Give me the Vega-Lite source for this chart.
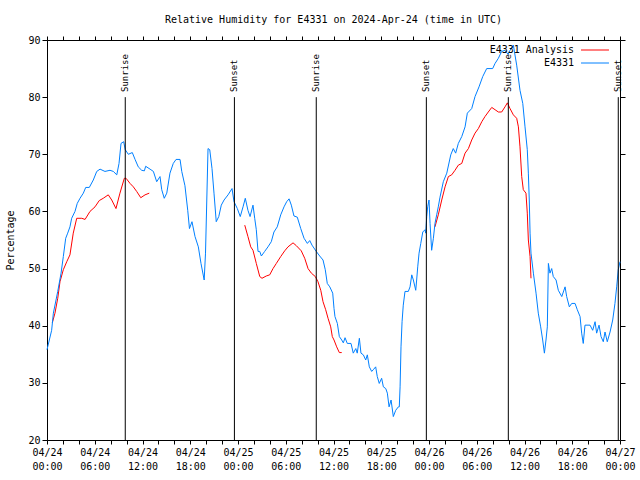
{
  "$schema": "https://vega.github.io/schema/vega-lite/v6.json",
  "width": 573,
  "height": 400,
  "autosize": {"type": "none"},
  "padding": {"left": 47, "top": 40, "right": 20, "bottom": 40},
  "title": {"text": "Relative Humidity for E4331 on 2024-Apr-24 (time in UTC)", "font": "DejaVu Sans Mono", "fontSize": 10, "fontWeight": "normal", "color": "black", "anchor": "middle", "offset": 10},
  "config": {
    "font": "DejaVu Sans Mono",
    "view": {"stroke": "black", "strokeWidth": 1},
    "axis": {"labelFont": "DejaVu Sans Mono", "labelFontSize": 10, "labelColor": "black", "titleFont": "DejaVu Sans Mono", "titleFontSize": 10, "titleFontWeight": "normal", "titleColor": "black", "domain": false, "tickColor": "black", "grid": false}
  },
  "datasets": {
    "sun": [
      {"time": "2024-04-24T09:50Z", "event": "Sunrise"},
      {"time": "2024-04-24T23:33Z", "event": "Sunset"},
      {"time": "2024-04-25T09:50Z", "event": "Sunrise"},
      {"time": "2024-04-25T23:40Z", "event": "Sunset"},
      {"time": "2024-04-26T09:58Z", "event": "Sunrise"},
      {"time": "2024-04-26T23:47Z", "event": "Sunset"}
    ],
    "rh": [
      {"time": "2024-04-24T00:40Z", "series": "E4331 Analysis", "rh": 40.5},
      {"time": "2024-04-24T01:00Z", "series": "E4331 Analysis", "rh": 42.2},
      {"time": "2024-04-24T01:21Z", "series": "E4331 Analysis", "rh": 44.8},
      {"time": "2024-04-24T01:38Z", "series": "E4331 Analysis", "rh": 47.7},
      {"time": "2024-04-24T02:03Z", "series": "E4331 Analysis", "rh": 49.8},
      {"time": "2024-04-24T02:29Z", "series": "E4331 Analysis", "rh": 51.2},
      {"time": "2024-04-24T02:53Z", "series": "E4331 Analysis", "rh": 52.4},
      {"time": "2024-04-24T03:18Z", "series": "E4331 Analysis", "rh": 56.2},
      {"time": "2024-04-24T03:44Z", "series": "E4331 Analysis", "rh": 58.8},
      {"time": "2024-04-24T04:22Z", "series": "E4331 Analysis", "rh": 58.8},
      {"time": "2024-04-24T04:47Z", "series": "E4331 Analysis", "rh": 58.6},
      {"time": "2024-04-24T05:24Z", "series": "E4331 Analysis", "rh": 60.0},
      {"time": "2024-04-24T06:02Z", "series": "E4331 Analysis", "rh": 60.8},
      {"time": "2024-04-24T06:34Z", "series": "E4331 Analysis", "rh": 61.9},
      {"time": "2024-04-24T07:04Z", "series": "E4331 Analysis", "rh": 62.3},
      {"time": "2024-04-24T07:42Z", "series": "E4331 Analysis", "rh": 62.9},
      {"time": "2024-04-24T08:08Z", "series": "E4331 Analysis", "rh": 62.0},
      {"time": "2024-04-24T08:40Z", "series": "E4331 Analysis", "rh": 60.5},
      {"time": "2024-04-24T09:10Z", "series": "E4331 Analysis", "rh": 63.2},
      {"time": "2024-04-24T09:43Z", "series": "E4331 Analysis", "rh": 65.8},
      {"time": "2024-04-24T09:56Z", "series": "E4331 Analysis", "rh": 65.8},
      {"time": "2024-04-24T10:26Z", "series": "E4331 Analysis", "rh": 64.9},
      {"time": "2024-04-24T10:51Z", "series": "E4331 Analysis", "rh": 64.3},
      {"time": "2024-04-24T11:16Z", "series": "E4331 Analysis", "rh": 63.5},
      {"time": "2024-04-24T11:47Z", "series": "E4331 Analysis", "rh": 62.4},
      {"time": "2024-04-24T12:19Z", "series": "E4331 Analysis", "rh": 62.9},
      {"time": "2024-04-24T12:51Z", "series": "E4331 Analysis", "rh": 63.2},
      {"time": "2024-04-24T18:00Z", "series": "E4331 Analysis", "rh": null},
      {"time": "2024-04-25T00:51Z", "series": "E4331 Analysis", "rh": 57.6},
      {"time": "2024-04-25T01:15Z", "series": "E4331 Analysis", "rh": 55.6},
      {"time": "2024-04-25T01:36Z", "series": "E4331 Analysis", "rh": 53.8},
      {"time": "2024-04-25T01:53Z", "series": "E4331 Analysis", "rh": 53.2},
      {"time": "2024-04-25T02:18Z", "series": "E4331 Analysis", "rh": 50.9},
      {"time": "2024-04-25T02:44Z", "series": "E4331 Analysis", "rh": 48.6},
      {"time": "2024-04-25T03:01Z", "series": "E4331 Analysis", "rh": 48.3},
      {"time": "2024-04-25T03:33Z", "series": "E4331 Analysis", "rh": 48.7},
      {"time": "2024-04-25T03:59Z", "series": "E4331 Analysis", "rh": 48.9},
      {"time": "2024-04-25T04:24Z", "series": "E4331 Analysis", "rh": 50.0},
      {"time": "2024-04-25T04:49Z", "series": "E4331 Analysis", "rh": 50.9},
      {"time": "2024-04-25T05:22Z", "series": "E4331 Analysis", "rh": 52.1},
      {"time": "2024-04-25T05:52Z", "series": "E4331 Analysis", "rh": 53.1},
      {"time": "2024-04-25T06:17Z", "series": "E4331 Analysis", "rh": 53.8},
      {"time": "2024-04-25T06:55Z", "series": "E4331 Analysis", "rh": 54.5},
      {"time": "2024-04-25T07:20Z", "series": "E4331 Analysis", "rh": 54.0},
      {"time": "2024-04-25T07:57Z", "series": "E4331 Analysis", "rh": 53.1},
      {"time": "2024-04-25T08:23Z", "series": "E4331 Analysis", "rh": 51.8},
      {"time": "2024-04-25T08:48Z", "series": "E4331 Analysis", "rh": 50.0},
      {"time": "2024-04-25T09:13Z", "series": "E4331 Analysis", "rh": 49.2},
      {"time": "2024-04-25T09:43Z", "series": "E4331 Analysis", "rh": 48.6},
      {"time": "2024-04-25T10:03Z", "series": "E4331 Analysis", "rh": 47.7},
      {"time": "2024-04-25T10:24Z", "series": "E4331 Analysis", "rh": 46.2},
      {"time": "2024-04-25T10:41Z", "series": "E4331 Analysis", "rh": 44.2},
      {"time": "2024-04-25T11:01Z", "series": "E4331 Analysis", "rh": 42.8},
      {"time": "2024-04-25T11:19Z", "series": "E4331 Analysis", "rh": 41.3},
      {"time": "2024-04-25T11:39Z", "series": "E4331 Analysis", "rh": 39.8},
      {"time": "2024-04-25T11:51Z", "series": "E4331 Analysis", "rh": 38.1},
      {"time": "2024-04-25T12:04Z", "series": "E4331 Analysis", "rh": 37.5},
      {"time": "2024-04-25T12:24Z", "series": "E4331 Analysis", "rh": 36.3},
      {"time": "2024-04-25T12:44Z", "series": "E4331 Analysis", "rh": 35.3},
      {"time": "2024-04-25T13:02Z", "series": "E4331 Analysis", "rh": 35.3},
      {"time": "2024-04-25T18:00Z", "series": "E4331 Analysis", "rh": null},
      {"time": "2024-04-26T00:45Z", "series": "E4331 Analysis", "rh": 57.3},
      {"time": "2024-04-26T01:10Z", "series": "E4331 Analysis", "rh": 59.4},
      {"time": "2024-04-26T01:36Z", "series": "E4331 Analysis", "rh": 62.0},
      {"time": "2024-04-26T02:01Z", "series": "E4331 Analysis", "rh": 64.3},
      {"time": "2024-04-26T02:26Z", "series": "E4331 Analysis", "rh": 66.1},
      {"time": "2024-04-26T02:51Z", "series": "E4331 Analysis", "rh": 66.4},
      {"time": "2024-04-26T03:16Z", "series": "E4331 Analysis", "rh": 67.2},
      {"time": "2024-04-26T03:41Z", "series": "E4331 Analysis", "rh": 68.1},
      {"time": "2024-04-26T04:07Z", "series": "E4331 Analysis", "rh": 68.4},
      {"time": "2024-04-26T04:32Z", "series": "E4331 Analysis", "rh": 70.2},
      {"time": "2024-04-26T04:57Z", "series": "E4331 Analysis", "rh": 71.0},
      {"time": "2024-04-26T05:22Z", "series": "E4331 Analysis", "rh": 72.5},
      {"time": "2024-04-26T05:47Z", "series": "E4331 Analysis", "rh": 73.7},
      {"time": "2024-04-26T06:12Z", "series": "E4331 Analysis", "rh": 74.5},
      {"time": "2024-04-26T06:38Z", "series": "E4331 Analysis", "rh": 75.7},
      {"time": "2024-04-26T07:02Z", "series": "E4331 Analysis", "rh": 76.6},
      {"time": "2024-04-26T07:27Z", "series": "E4331 Analysis", "rh": 77.4},
      {"time": "2024-04-26T07:53Z", "series": "E4331 Analysis", "rh": 78.2},
      {"time": "2024-04-26T08:18Z", "series": "E4331 Analysis", "rh": 77.8},
      {"time": "2024-04-26T08:43Z", "series": "E4331 Analysis", "rh": 77.4},
      {"time": "2024-04-26T09:08Z", "series": "E4331 Analysis", "rh": 77.4},
      {"time": "2024-04-26T09:33Z", "series": "E4331 Analysis", "rh": 78.3},
      {"time": "2024-04-26T09:51Z", "series": "E4331 Analysis", "rh": 79.0},
      {"time": "2024-04-26T10:11Z", "series": "E4331 Analysis", "rh": 78.0},
      {"time": "2024-04-26T10:36Z", "series": "E4331 Analysis", "rh": 76.9},
      {"time": "2024-04-26T11:01Z", "series": "E4331 Analysis", "rh": 76.3},
      {"time": "2024-04-26T11:14Z", "series": "E4331 Analysis", "rh": 74.8},
      {"time": "2024-04-26T11:26Z", "series": "E4331 Analysis", "rh": 71.3},
      {"time": "2024-04-26T11:39Z", "series": "E4331 Analysis", "rh": 66.1},
      {"time": "2024-04-26T11:51Z", "series": "E4331 Analysis", "rh": 63.8},
      {"time": "2024-04-26T12:11Z", "series": "E4331 Analysis", "rh": 63.2},
      {"time": "2024-04-26T12:21Z", "series": "E4331 Analysis", "rh": 59.7},
      {"time": "2024-04-26T12:29Z", "series": "E4331 Analysis", "rh": 55.0},
      {"time": "2024-04-26T12:42Z", "series": "E4331 Analysis", "rh": 52.1},
      {"time": "2024-04-26T12:49Z", "series": "E4331 Analysis", "rh": 48.3},
      {"time": "2024-04-24T00:00Z", "series": "E4331", "rh": 35.8},
      {"time": "2024-04-24T00:35Z", "series": "E4331", "rh": 39.2},
      {"time": "2024-04-24T00:48Z", "series": "E4331", "rh": 42.2},
      {"time": "2024-04-24T01:21Z", "series": "E4331", "rh": 46.0},
      {"time": "2024-04-24T01:46Z", "series": "E4331", "rh": 49.2},
      {"time": "2024-04-24T02:03Z", "series": "E4331", "rh": 52.1},
      {"time": "2024-04-24T02:21Z", "series": "E4331", "rh": 55.3},
      {"time": "2024-04-24T02:36Z", "series": "E4331", "rh": 56.2},
      {"time": "2024-04-24T02:53Z", "series": "E4331", "rh": 57.3},
      {"time": "2024-04-24T03:06Z", "series": "E4331", "rh": 58.8},
      {"time": "2024-04-24T03:31Z", "series": "E4331", "rh": 60.0},
      {"time": "2024-04-24T03:48Z", "series": "E4331", "rh": 61.4},
      {"time": "2024-04-24T04:09Z", "series": "E4331", "rh": 62.3},
      {"time": "2024-04-24T04:34Z", "series": "E4331", "rh": 63.2},
      {"time": "2024-04-24T04:52Z", "series": "E4331", "rh": 64.2},
      {"time": "2024-04-24T05:19Z", "series": "E4331", "rh": 64.2},
      {"time": "2024-04-24T05:49Z", "series": "E4331", "rh": 65.5},
      {"time": "2024-04-24T06:15Z", "series": "E4331", "rh": 67.0},
      {"time": "2024-04-24T06:40Z", "series": "E4331", "rh": 67.4},
      {"time": "2024-04-24T07:17Z", "series": "E4331", "rh": 67.0},
      {"time": "2024-04-24T07:55Z", "series": "E4331", "rh": 67.2},
      {"time": "2024-04-24T08:20Z", "series": "E4331", "rh": 67.0},
      {"time": "2024-04-24T08:46Z", "series": "E4331", "rh": 66.4},
      {"time": "2024-04-24T09:03Z", "series": "E4331", "rh": 68.4},
      {"time": "2024-04-24T09:18Z", "series": "E4331", "rh": 71.9},
      {"time": "2024-04-24T09:38Z", "series": "E4331", "rh": 72.2},
      {"time": "2024-04-24T09:50Z", "series": "E4331", "rh": 70.8},
      {"time": "2024-04-24T10:13Z", "series": "E4331", "rh": 70.0},
      {"time": "2024-04-24T10:43Z", "series": "E4331", "rh": 70.3},
      {"time": "2024-04-24T11:04Z", "series": "E4331", "rh": 69.1},
      {"time": "2024-04-24T11:28Z", "series": "E4331", "rh": 67.8},
      {"time": "2024-04-24T11:54Z", "series": "E4331", "rh": 67.2},
      {"time": "2024-04-24T12:14Z", "series": "E4331", "rh": 67.1},
      {"time": "2024-04-24T12:24Z", "series": "E4331", "rh": 67.9},
      {"time": "2024-04-24T12:57Z", "series": "E4331", "rh": 67.4},
      {"time": "2024-04-24T13:22Z", "series": "E4331", "rh": 67.0},
      {"time": "2024-04-24T13:47Z", "series": "E4331", "rh": 65.2},
      {"time": "2024-04-24T14:12Z", "series": "E4331", "rh": 66.1},
      {"time": "2024-04-24T14:25Z", "series": "E4331", "rh": 63.8},
      {"time": "2024-04-24T14:44Z", "series": "E4331", "rh": 62.3},
      {"time": "2024-04-24T15:03Z", "series": "E4331", "rh": 63.2},
      {"time": "2024-04-24T15:27Z", "series": "E4331", "rh": 66.7},
      {"time": "2024-04-24T15:52Z", "series": "E4331", "rh": 68.4},
      {"time": "2024-04-24T16:13Z", "series": "E4331", "rh": 69.1},
      {"time": "2024-04-24T16:43Z", "series": "E4331", "rh": 69.1},
      {"time": "2024-04-24T16:56Z", "series": "E4331", "rh": 67.0},
      {"time": "2024-04-24T17:20Z", "series": "E4331", "rh": 64.5},
      {"time": "2024-04-24T17:41Z", "series": "E4331", "rh": 60.2},
      {"time": "2024-04-24T17:54Z", "series": "E4331", "rh": 57.0},
      {"time": "2024-04-24T18:13Z", "series": "E4331", "rh": 58.2},
      {"time": "2024-04-24T18:36Z", "series": "E4331", "rh": 55.6},
      {"time": "2024-04-24T19:01Z", "series": "E4331", "rh": 53.8},
      {"time": "2024-04-24T19:21Z", "series": "E4331", "rh": 50.9},
      {"time": "2024-04-24T19:45Z", "series": "E4331", "rh": 48.0},
      {"time": "2024-04-24T19:55Z", "series": "E4331", "rh": 52.7},
      {"time": "2024-04-24T20:14Z", "series": "E4331", "rh": 71.0},
      {"time": "2024-04-24T20:27Z", "series": "E4331", "rh": 70.8},
      {"time": "2024-04-24T20:44Z", "series": "E4331", "rh": 67.5},
      {"time": "2024-04-24T20:59Z", "series": "E4331", "rh": 63.2},
      {"time": "2024-04-24T21:16Z", "series": "E4331", "rh": 58.2},
      {"time": "2024-04-24T21:35Z", "series": "E4331", "rh": 59.1},
      {"time": "2024-04-24T21:54Z", "series": "E4331", "rh": 61.1},
      {"time": "2024-04-24T22:15Z", "series": "E4331", "rh": 62.0},
      {"time": "2024-04-24T22:45Z", "series": "E4331", "rh": 62.9},
      {"time": "2024-04-24T23:15Z", "series": "E4331", "rh": 64.0},
      {"time": "2024-04-24T23:30Z", "series": "E4331", "rh": 61.7},
      {"time": "2024-04-24T23:55Z", "series": "E4331", "rh": 60.5},
      {"time": "2024-04-25T00:17Z", "series": "E4331", "rh": 59.1},
      {"time": "2024-04-25T00:38Z", "series": "E4331", "rh": 60.8},
      {"time": "2024-04-25T00:55Z", "series": "E4331", "rh": 62.3},
      {"time": "2024-04-25T01:15Z", "series": "E4331", "rh": 60.2},
      {"time": "2024-04-25T01:31Z", "series": "E4331", "rh": 59.1},
      {"time": "2024-04-25T01:53Z", "series": "E4331", "rh": 61.1},
      {"time": "2024-04-25T02:06Z", "series": "E4331", "rh": 58.8},
      {"time": "2024-04-25T02:18Z", "series": "E4331", "rh": 56.8},
      {"time": "2024-04-25T02:31Z", "series": "E4331", "rh": 53.0},
      {"time": "2024-04-25T02:44Z", "series": "E4331", "rh": 53.0},
      {"time": "2024-04-25T02:56Z", "series": "E4331", "rh": 52.2},
      {"time": "2024-04-25T03:21Z", "series": "E4331", "rh": 53.0},
      {"time": "2024-04-25T03:46Z", "series": "E4331", "rh": 53.8},
      {"time": "2024-04-25T04:11Z", "series": "E4331", "rh": 54.7},
      {"time": "2024-04-25T04:31Z", "series": "E4331", "rh": 56.4},
      {"time": "2024-04-25T04:56Z", "series": "E4331", "rh": 57.3},
      {"time": "2024-04-25T05:22Z", "series": "E4331", "rh": 59.4},
      {"time": "2024-04-25T05:47Z", "series": "E4331", "rh": 60.8},
      {"time": "2024-04-25T06:07Z", "series": "E4331", "rh": 61.7},
      {"time": "2024-04-25T06:25Z", "series": "E4331", "rh": 62.2},
      {"time": "2024-04-25T06:42Z", "series": "E4331", "rh": 61.1},
      {"time": "2024-04-25T07:02Z", "series": "E4331", "rh": 59.2},
      {"time": "2024-04-25T07:27Z", "series": "E4331", "rh": 59.0},
      {"time": "2024-04-25T07:53Z", "series": "E4331", "rh": 57.0},
      {"time": "2024-04-25T08:18Z", "series": "E4331", "rh": 55.3},
      {"time": "2024-04-25T08:43Z", "series": "E4331", "rh": 54.4},
      {"time": "2024-04-25T09:01Z", "series": "E4331", "rh": 54.9},
      {"time": "2024-04-25T09:18Z", "series": "E4331", "rh": 54.1},
      {"time": "2024-04-25T09:50Z", "series": "E4331", "rh": 53.0},
      {"time": "2024-04-25T10:16Z", "series": "E4331", "rh": 52.2},
      {"time": "2024-04-25T10:41Z", "series": "E4331", "rh": 51.5},
      {"time": "2024-04-25T10:58Z", "series": "E4331", "rh": 49.8},
      {"time": "2024-04-25T11:13Z", "series": "E4331", "rh": 47.4},
      {"time": "2024-04-25T11:32Z", "series": "E4331", "rh": 46.8},
      {"time": "2024-04-25T11:54Z", "series": "E4331", "rh": 45.7},
      {"time": "2024-04-25T12:04Z", "series": "E4331", "rh": 43.0},
      {"time": "2024-04-25T12:11Z", "series": "E4331", "rh": 41.6},
      {"time": "2024-04-25T12:29Z", "series": "E4331", "rh": 40.4},
      {"time": "2024-04-25T12:44Z", "series": "E4331", "rh": 38.1},
      {"time": "2024-04-25T13:02Z", "series": "E4331", "rh": 37.5},
      {"time": "2024-04-25T13:14Z", "series": "E4331", "rh": 37.0},
      {"time": "2024-04-25T13:27Z", "series": "E4331", "rh": 37.9},
      {"time": "2024-04-25T13:44Z", "series": "E4331", "rh": 36.9},
      {"time": "2024-04-25T14:12Z", "series": "E4331", "rh": 36.9},
      {"time": "2024-04-25T14:29Z", "series": "E4331", "rh": 35.2},
      {"time": "2024-04-25T14:48Z", "series": "E4331", "rh": 36.0},
      {"time": "2024-04-25T14:59Z", "series": "E4331", "rh": 35.2},
      {"time": "2024-04-25T15:15Z", "series": "E4331", "rh": 37.8},
      {"time": "2024-04-25T15:27Z", "series": "E4331", "rh": 35.2},
      {"time": "2024-04-25T15:45Z", "series": "E4331", "rh": 34.9},
      {"time": "2024-04-25T16:03Z", "series": "E4331", "rh": 34.0},
      {"time": "2024-04-25T16:15Z", "series": "E4331", "rh": 34.9},
      {"time": "2024-04-25T16:30Z", "series": "E4331", "rh": 32.8},
      {"time": "2024-04-25T16:48Z", "series": "E4331", "rh": 32.0},
      {"time": "2024-04-25T17:00Z", "series": "E4331", "rh": 32.3},
      {"time": "2024-04-25T17:18Z", "series": "E4331", "rh": 32.8},
      {"time": "2024-04-25T17:30Z", "series": "E4331", "rh": 31.1},
      {"time": "2024-04-25T17:45Z", "series": "E4331", "rh": 29.9},
      {"time": "2024-04-25T18:03Z", "series": "E4331", "rh": 30.8},
      {"time": "2024-04-25T18:16Z", "series": "E4331", "rh": 29.3},
      {"time": "2024-04-25T18:34Z", "series": "E4331", "rh": 29.0},
      {"time": "2024-04-25T18:46Z", "series": "E4331", "rh": 28.2},
      {"time": "2024-04-25T18:59Z", "series": "E4331", "rh": 25.8},
      {"time": "2024-04-25T19:14Z", "series": "E4331", "rh": 27.0},
      {"time": "2024-04-25T19:31Z", "series": "E4331", "rh": 24.1},
      {"time": "2024-04-25T19:49Z", "series": "E4331", "rh": 25.2},
      {"time": "2024-04-25T20:09Z", "series": "E4331", "rh": 25.8},
      {"time": "2024-04-25T20:16Z", "series": "E4331", "rh": 25.8},
      {"time": "2024-04-25T20:22Z", "series": "E4331", "rh": 29.3},
      {"time": "2024-04-25T20:29Z", "series": "E4331", "rh": 36.3},
      {"time": "2024-04-25T20:37Z", "series": "E4331", "rh": 40.7},
      {"time": "2024-04-25T20:46Z", "series": "E4331", "rh": 43.6},
      {"time": "2024-04-25T20:59Z", "series": "E4331", "rh": 46.0},
      {"time": "2024-04-25T21:24Z", "series": "E4331", "rh": 46.0},
      {"time": "2024-04-25T21:37Z", "series": "E4331", "rh": 46.8},
      {"time": "2024-04-25T21:50Z", "series": "E4331", "rh": 48.9},
      {"time": "2024-04-25T22:02Z", "series": "E4331", "rh": 48.0},
      {"time": "2024-04-25T22:20Z", "series": "E4331", "rh": 46.2},
      {"time": "2024-04-25T22:27Z", "series": "E4331", "rh": 48.0},
      {"time": "2024-04-25T22:35Z", "series": "E4331", "rh": 50.3},
      {"time": "2024-04-25T22:45Z", "series": "E4331", "rh": 52.7},
      {"time": "2024-04-25T22:58Z", "series": "E4331", "rh": 54.4},
      {"time": "2024-04-25T23:13Z", "series": "E4331", "rh": 56.4},
      {"time": "2024-04-25T23:30Z", "series": "E4331", "rh": 56.8},
      {"time": "2024-04-25T23:35Z", "series": "E4331", "rh": 56.2},
      {"time": "2024-04-25T23:43Z", "series": "E4331", "rh": 59.1},
      {"time": "2024-04-25T23:50Z", "series": "E4331", "rh": 60.8},
      {"time": "2024-04-26T00:00Z", "series": "E4331", "rh": 62.0},
      {"time": "2024-04-26T00:08Z", "series": "E4331", "rh": 57.9},
      {"time": "2024-04-26T00:20Z", "series": "E4331", "rh": 53.2},
      {"time": "2024-04-26T00:33Z", "series": "E4331", "rh": 55.3},
      {"time": "2024-04-26T00:45Z", "series": "E4331", "rh": 57.9},
      {"time": "2024-04-26T00:58Z", "series": "E4331", "rh": 59.4},
      {"time": "2024-04-26T01:10Z", "series": "E4331", "rh": 60.8},
      {"time": "2024-04-26T01:23Z", "series": "E4331", "rh": 62.5},
      {"time": "2024-04-26T01:48Z", "series": "E4331", "rh": 65.2},
      {"time": "2024-04-26T02:14Z", "series": "E4331", "rh": 66.7},
      {"time": "2024-04-26T02:44Z", "series": "E4331", "rh": 69.9},
      {"time": "2024-04-26T03:03Z", "series": "E4331", "rh": 71.0},
      {"time": "2024-04-26T03:21Z", "series": "E4331", "rh": 70.2},
      {"time": "2024-04-26T03:41Z", "series": "E4331", "rh": 71.9},
      {"time": "2024-04-26T04:07Z", "series": "E4331", "rh": 73.1},
      {"time": "2024-04-26T04:32Z", "series": "E4331", "rh": 74.8},
      {"time": "2024-04-26T04:49Z", "series": "E4331", "rh": 77.2},
      {"time": "2024-04-26T05:22Z", "series": "E4331", "rh": 78.0},
      {"time": "2024-04-26T05:47Z", "series": "E4331", "rh": 80.1},
      {"time": "2024-04-26T06:17Z", "series": "E4331", "rh": 81.8},
      {"time": "2024-04-26T06:45Z", "series": "E4331", "rh": 83.6},
      {"time": "2024-04-26T07:15Z", "series": "E4331", "rh": 85.0},
      {"time": "2024-04-26T08:00Z", "series": "E4331", "rh": 85.0},
      {"time": "2024-04-26T08:18Z", "series": "E4331", "rh": 85.9},
      {"time": "2024-04-26T08:43Z", "series": "E4331", "rh": 86.8},
      {"time": "2024-04-26T09:08Z", "series": "E4331", "rh": 88.0},
      {"time": "2024-04-26T09:33Z", "series": "E4331", "rh": 88.2},
      {"time": "2024-04-26T09:56Z", "series": "E4331", "rh": 87.5},
      {"time": "2024-04-26T10:11Z", "series": "E4331", "rh": 88.2},
      {"time": "2024-04-26T10:36Z", "series": "E4331", "rh": 89.1},
      {"time": "2024-04-26T11:01Z", "series": "E4331", "rh": 85.6},
      {"time": "2024-04-26T11:26Z", "series": "E4331", "rh": 81.2},
      {"time": "2024-04-26T11:47Z", "series": "E4331", "rh": 78.9},
      {"time": "2024-04-26T12:04Z", "series": "E4331", "rh": 74.8},
      {"time": "2024-04-26T12:21Z", "series": "E4331", "rh": 70.8},
      {"time": "2024-04-26T12:29Z", "series": "E4331", "rh": 66.7},
      {"time": "2024-04-26T12:36Z", "series": "E4331", "rh": 62.0},
      {"time": "2024-04-26T12:42Z", "series": "E4331", "rh": 56.2},
      {"time": "2024-04-26T12:49Z", "series": "E4331", "rh": 52.7},
      {"time": "2024-04-26T13:07Z", "series": "E4331", "rh": 49.2},
      {"time": "2024-04-26T13:27Z", "series": "E4331", "rh": 45.7},
      {"time": "2024-04-26T13:44Z", "series": "E4331", "rh": 42.2},
      {"time": "2024-04-26T14:02Z", "series": "E4331", "rh": 39.8},
      {"time": "2024-04-26T14:17Z", "series": "E4331", "rh": 37.5},
      {"time": "2024-04-26T14:30Z", "series": "E4331", "rh": 35.2},
      {"time": "2024-04-26T14:42Z", "series": "E4331", "rh": 37.5},
      {"time": "2024-04-26T14:52Z", "series": "E4331", "rh": 39.8},
      {"time": "2024-04-26T15:00Z", "series": "E4331", "rh": 50.9},
      {"time": "2024-04-26T15:12Z", "series": "E4331", "rh": 49.2},
      {"time": "2024-04-26T15:25Z", "series": "E4331", "rh": 50.0},
      {"time": "2024-04-26T15:37Z", "series": "E4331", "rh": 48.6},
      {"time": "2024-04-26T15:58Z", "series": "E4331", "rh": 48.0},
      {"time": "2024-04-26T16:15Z", "series": "E4331", "rh": 46.2},
      {"time": "2024-04-26T16:41Z", "series": "E4331", "rh": 45.1},
      {"time": "2024-04-26T17:06Z", "series": "E4331", "rh": 46.8},
      {"time": "2024-04-26T17:18Z", "series": "E4331", "rh": 45.1},
      {"time": "2024-04-26T17:38Z", "series": "E4331", "rh": 43.3},
      {"time": "2024-04-26T17:56Z", "series": "E4331", "rh": 43.9},
      {"time": "2024-04-26T18:21Z", "series": "E4331", "rh": 43.9},
      {"time": "2024-04-26T18:38Z", "series": "E4331", "rh": 42.8},
      {"time": "2024-04-26T18:59Z", "series": "E4331", "rh": 41.6},
      {"time": "2024-04-26T19:11Z", "series": "E4331", "rh": 38.7},
      {"time": "2024-04-26T19:23Z", "series": "E4331", "rh": 36.9},
      {"time": "2024-04-26T19:36Z", "series": "E4331", "rh": 40.1},
      {"time": "2024-04-26T20:14Z", "series": "E4331", "rh": 40.1},
      {"time": "2024-04-26T20:34Z", "series": "E4331", "rh": 39.2},
      {"time": "2024-04-26T20:52Z", "series": "E4331", "rh": 40.7},
      {"time": "2024-04-26T21:04Z", "series": "E4331", "rh": 38.7},
      {"time": "2024-04-26T21:22Z", "series": "E4331", "rh": 40.1},
      {"time": "2024-04-26T21:37Z", "series": "E4331", "rh": 38.1},
      {"time": "2024-04-26T21:54Z", "series": "E4331", "rh": 37.2},
      {"time": "2024-04-26T22:07Z", "series": "E4331", "rh": 38.9},
      {"time": "2024-04-26T22:24Z", "series": "E4331", "rh": 37.2},
      {"time": "2024-04-26T22:45Z", "series": "E4331", "rh": 38.9},
      {"time": "2024-04-26T23:05Z", "series": "E4331", "rh": 41.0},
      {"time": "2024-04-26T23:22Z", "series": "E4331", "rh": 43.9},
      {"time": "2024-04-26T23:35Z", "series": "E4331", "rh": 46.8},
      {"time": "2024-04-26T23:47Z", "series": "E4331", "rh": 49.8},
      {"time": "2024-04-27T00:00Z", "series": "E4331", "rh": 51.2}
    ]
  },
  "layer": [
    {
      "data": {"name": "rh"},
      "transform": [{"filter": "datum.series == 'E4331 Analysis'"}],
      "mark": {"type": "line", "strokeWidth": 1, "invalid": "break-paths-show-domains"},
      "encoding": {
        "x": {"field": "time", "type": "temporal",
          "scale": {"type": "utc", "domain": [{"year": 2024, "month": 4, "date": 24, "utc": true}, {"year": 2024, "month": 4, "date": 27, "utc": true}], "nice": false},
          "axis": {"orient": "bottom", "title": null,
            "values": [1713916800000, 1713924000000, 1713931200000, 1713938400000, 1713945600000, 1713952800000, 1713960000000, 1713967200000, 1713974400000, 1713981600000, 1713988800000, 1713996000000, 1714003200000, 1714010400000, 1714017600000, 1714024800000, 1714032000000, 1714039200000, 1714046400000, 1714053600000, 1714060800000, 1714068000000, 1714075200000, 1714082400000, 1714089600000, 1714096800000, 1714104000000, 1714111200000, 1714118400000, 1714125600000, 1714132800000, 1714140000000, 1714147200000, 1714154400000, 1714161600000, 1714168800000, 1714176000000],
            "labelExpr": "utchours(datum.value) % 6 == 0 ? [utcFormat(datum.value, '%m/%d'), utcFormat(datum.value, '%H:%M')] : ''",
            "labelOverlap": false, "labelFlush": false, "tickSize": 4, "labelPadding": 3, "labelLineHeight": 14,
            "encode": {"ticks": {"update": {"y2": {"value": -4}}}}}},
        "y": {"field": "rh", "type": "quantitative",
          "scale": {"domain": [20, 90], "nice": false, "zero": false},
          "axis": {"title": "Percentage", "values": [20, 30, 40, 50, 60, 70, 80, 90], "tickSize": 5, "labelPadding": 2, "titleX": -37, "titleY": 200, "titleAngle": 270, "titleBaseline": "middle", "titleAlign": "center",
            "encode": {"ticks": {"update": {"x2": {"value": 5}}}}}},
        "color": {"field": "series", "type": "nominal",
          "scale": {"domain": ["E4331 Analysis", "E4331"], "range": ["#ff0000", "#0080ff"]},
          "legend": {"title": null, "orient": "none", "legendX": 541, "legendY": 3, "symbolType": "M-2.15,0H2.15", "symbolSize": 169, "symbolStrokeWidth": 1, "labelAlign": "right", "labelOffset": -28, "labelFont": "DejaVu Sans Mono", "labelFontSize": 10, "labelColor": "black", "rowPadding": 1, "padding": 0}}
      }
    },
    {
      "data": {"name": "rh"},
      "transform": [{"filter": "datum.series == 'E4331'"}],
      "mark": {"type": "line", "strokeWidth": 1},
      "encoding": {
        "x": {"field": "time", "type": "temporal",
          "axis": {"orient": "top", "title": null, "labels": false,
            "values": [1713916800000, 1713924000000, 1713931200000, 1713938400000, 1713945600000, 1713952800000, 1713960000000, 1713967200000, 1713974400000, 1713981600000, 1713988800000, 1713996000000, 1714003200000, 1714010400000, 1714017600000, 1714024800000, 1714032000000, 1714039200000, 1714046400000, 1714053600000, 1714060800000, 1714068000000, 1714075200000, 1714082400000, 1714089600000, 1714096800000, 1714104000000, 1714111200000, 1714118400000, 1714125600000, 1714132800000, 1714140000000, 1714147200000, 1714154400000, 1714161600000, 1714168800000, 1714176000000],
            "tickSize": 4, "encode": {"ticks": {"update": {"y2": {"value": 4}}}}}},
        "y": {"field": "rh", "type": "quantitative",
          "axis": {"orient": "right", "title": null, "labels": false, "values": [20, 30, 40, 50, 60, 70, 80, 90], "tickSize": 5,
            "encode": {"ticks": {"update": {"x2": {"value": -5}}}}}},
        "color": {"field": "series", "type": "nominal"}
      }
    },
    {
      "data": {"name": "sun"},
      "mark": {"type": "rule", "color": "black", "strokeWidth": 1},
      "encoding": {
        "x": {"field": "time", "type": "temporal", "axis": null},
        "y": {"datum": 20, "type": "quantitative", "axis": null},
        "y2": {"datum": 80}
      }
    },
    {
      "data": {"name": "sun"},
      "mark": {"type": "text", "angle": 270, "align": "left", "baseline": "middle", "font": "DejaVu Sans Mono", "fontSize": 9, "color": "black"},
      "encoding": {
        "x": {"field": "time", "type": "temporal", "axis": null},
        "y": {"datum": 80.9, "type": "quantitative", "axis": null},
        "text": {"field": "event"}
      }
    }
  ],
  "resolve": {"axis": {"x": "independent", "y": "independent"}}
}
